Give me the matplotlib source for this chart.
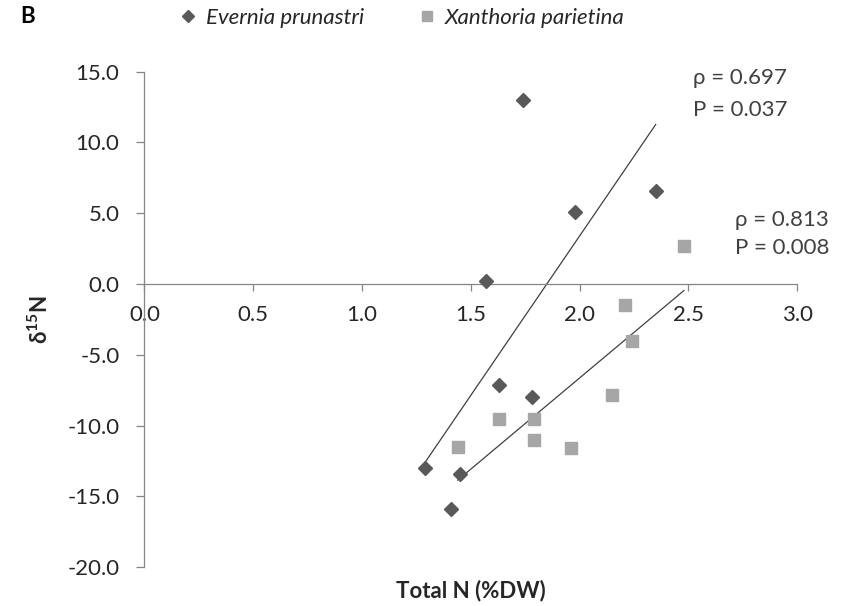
import numpy as np
import matplotlib.pyplot as plt
from matplotlib.lines import Line2D

plt.rcParams['font.family'] = ['Lato', 'DejaVu Sans']
plt.rcParams['mathtext.default'] = 'regular'

# Evernia prunastri (diamonds)
ev_n = [1.29, 1.41, 1.45, 1.57, 1.63, 1.74, 1.78, 1.98, 2.35]
ev_d15n = [-13.0, -15.9, -13.4, 0.2, -7.1, 13.0, -8.0, 5.1, 6.6]

# Xanthoria parietina (squares)
xa_n = [1.44, 1.63, 1.79, 1.79, 1.96, 2.15, 2.21, 2.24, 2.48]
xa_d15n = [-11.5, -9.5, -9.5, -11.0, -11.6, -7.8, -1.5, -4.0, 2.7]

stats_ev = ['ρ = 0.697', 'P = 0.037']
stats_xa = ['ρ = 0.813', 'P = 0.008']

x_ticks = [0.0, 0.5, 1.0, 1.5, 2.0, 2.5, 3.0]
y_ticks = [-20, -15, -10, -5, 0, 5, 10, 15]

ev_color = '#595959'
xa_color = '#a6a6a6'
axis_color = '#868686'
text_color = '#262626'
fs = 16

fig = plt.figure(figsize=(8.48, 6.06), dpi=100)
ax = fig.add_axes([0.1704, 0.0639, 0.7695, 0.8178])

ax.plot(ev_n, ev_d15n, linestyle='none', marker='D', markersize=6.8,
        color=ev_color, zorder=3)
ax.plot(xa_n, xa_d15n, linestyle='none', marker='s', markersize=8.6,
        color=xa_color, zorder=3)

# linear trendlines over the data range
for xs, ys in [(ev_n, ev_d15n), (xa_n, xa_d15n)]:
    k, b = np.polyfit(xs, ys, 1)
    xx = np.array([min(xs), max(xs)])
    ax.plot(xx, k * xx + b, color='#404040', lw=0.9, zorder=2)

ax.set_xlim(0, 3)
ax.set_ylim(-20, 15)
ax.set_xticks(x_ticks)
ax.set_yticks(y_ticks)
ax.set_xticklabels([f'{v:.1f}' for v in x_ticks])
ax.set_yticklabels([f'{v:.1f}' for v in y_ticks])

ax.spines['top'].set_visible(False)
ax.spines['right'].set_visible(False)
ax.spines['bottom'].set_position(('data', 0))
for s in ['left', 'bottom']:
    ax.spines[s].set_color(axis_color)
    ax.spines[s].set_linewidth(0.9)

ax.tick_params(axis='both', colors=axis_color, labelcolor=text_color,
               labelsize=fs, width=0.9)
ax.tick_params(axis='y', length=6, pad=12)
ax.tick_params(axis='x', length=5, pad=10)

ax.set_xlabel('Total N (%DW)', fontsize=fs, fontweight='bold', color=text_color)
ax.xaxis.label.set_va('center')
ax.xaxis.set_label_coords(0.5, -0.046)
ax.set_ylabel('δ$^{15}$N', fontsize=fs, fontweight='bold', color=text_color)
ax.yaxis.label.set_va('center')
ax.yaxis.set_label_coords(-0.16, 0.5)

ax.text(2.52, 14.55, stats_ev[0], fontsize=fs, color='#404040', va='center')
ax.text(2.52, 12.3, stats_ev[1], fontsize=fs, color='#404040', va='center')
ax.text(2.715, 4.5, stats_xa[0], fontsize=fs, color='#404040', va='center')
ax.text(2.715, 2.55, stats_xa[1], fontsize=fs, color='#404040', va='center')

fig.text(0.024, 0.972, 'B', fontsize=fs, fontweight='bold', color='black',
         va='center')

handles = [
    Line2D([], [], linestyle='none', marker='D', markersize=6, color=ev_color),
    Line2D([], [], linestyle='none', marker='s', markersize=7.5, color=xa_color),
]
leg = fig.legend(handles, ['Evernia prunastri', 'Xanthoria parietina'],
                 loc='center left', bbox_to_anchor=(0.211, 0.970), ncol=2,
                 frameon=False, handlelength=0.8, handletextpad=0.4,
                 columnspacing=2.45, borderpad=0, borderaxespad=0,
                 prop={'size': fs, 'style': 'italic'})
for t in leg.get_texts():
    t.set_color(text_color)

fig.savefig('out.png', dpi=100)
